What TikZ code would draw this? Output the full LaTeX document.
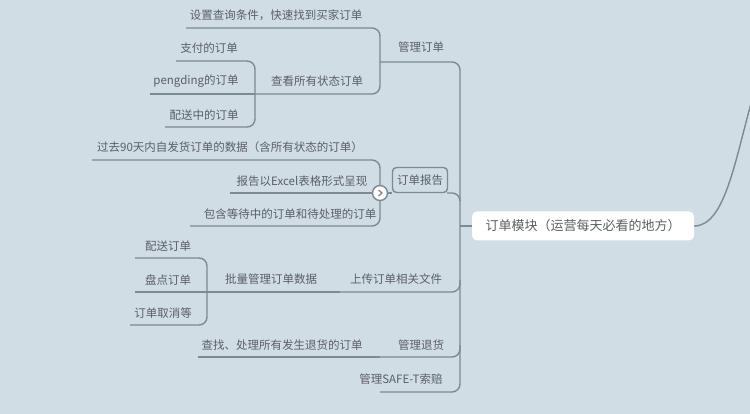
\documentclass[tikz,border=0pt]{standalone}
\usepackage{fontspec}
\setmainfont{Noto Sans CJK SC}
\begin{document}
\begin{tikzpicture}[x=1pt,y=-1pt,
  ln/.style={draw=lc,line width=1.4pt,rounded corners=8pt},
  tx/.style={text=tc,font=\fontsize{11.5}{13}\selectfont,inner sep=0pt}]
\definecolor{bg}{HTML}{D1DDE5}
\definecolor{lc}{HTML}{7E8990}
\definecolor{tc}{HTML}{5A5F63}
\fill[bg] (0,0) rectangle (750,414);
\useasboundingbox (0,0) rectangle (750,414);
% root
\node[tx,fill=white,rounded corners=5pt,minimum width=222pt,minimum height=29pt,font=\fontsize{13}{15}\selectfont] (root) at (583,226) {订单模块（运营每天必看的地方）};
\draw[lc,line width=1.4pt] (root.east) .. controls (725,226) and (735,160) .. (752,100);
% trunk
\coordinate (tj) at (460,226);
\draw[ln] (tj) -- (root.west);
\draw[ln] (380,62) -- (460,62) -- (tj);
\draw[ln] (380,392) -- (460,392) -- (tj);
\draw[ln] (447,193) -- (460,193) -- (460,200);
\draw[ln] (340,292) -- (460,292) -- (460,280);
\draw[ln] (380,357) -- (460,357) -- (460,345);
\node[tx] (m1) at (421,47) {管理订单};
\node[tx,draw=lc,line width=1.4pt,rounded corners=4pt,minimum width=55pt,minimum height=25pt,fill=bg] (m2) at (420,180) {订单报告};
\node[tx] (m3) at (396,279) {上传订单相关文件};
\node[tx] (m4) at (421,345) {管理退货};
\node[tx] (m5) at (401,379) {管理SAFE-T索赔};
% 管理订单 children
\draw[ln] (186,28) -- (380,28) -- (380,62);
\draw[ln] (255,94) -- (380,94) -- (380,62);
\node[tx] (a1) at (276,15) {设置查询条件，快速找到买家订单};
\node[tx] (a2) at (317,81) {查看所有状态订单};
\draw[ln] (176,61) -- (255,61) -- (255,94);
\draw[ln] (165,127) -- (255,127) -- (255,94);
\draw[ln] (150,94) -- (255,94);
\node[tx] (b1) at (209,48) {支付的订单};
\node[tx] (b2) at (196,81) {pengding的订单};
\node[tx] (b3) at (204,115) {配送中的订单};
% 订单报告 children
\draw[ln] (92,160) -- (380,160) -- (380,193);
\draw[ln] (190,226) -- (380,226) -- (380,193);
\draw[ln] (230,193) -- (392,193);
\node[tx] (c1) at (230,147) {过去90天内自发货订单的数据（含所有状态的订单）};
\node[tx] (c2) at (302,181) {报告以Excel表格形式呈现};
\node[tx] (c3) at (290,214) {包含等待中的订单和待处理的订单};
\node[circle,draw=lc,line width=1.4pt,fill=white,minimum size=15pt,inner sep=0pt] (tog) at (380,193) {};
\draw[lc,line width=1.3pt] ([xshift=-1.5pt,yshift=3pt]tog.center) -- ([xshift=2pt]tog.center) -- ([xshift=-1.5pt,yshift=-3pt]tog.center);
% 上传 children
\draw[ln] (207,292) -- (340,292);
\node[tx] (d1) at (271,279) {批量管理订单数据};
\draw[ln] (135,258) -- (207,258) -- (207,292);
\draw[ln] (130,325) -- (207,325) -- (207,292);
\draw[ln] (135,292) -- (207,292);
\node[tx] (e1) at (168,246) {配送订单};
\node[tx] (e2) at (168,280) {盘点订单};
\node[tx] (e3) at (163,313) {订单取消等};
% 退货 child
\draw[ln] (198,357) -- (380,357);
\node[tx] (f1) at (282,345) {查找、处理所有发生退货的订单};
\end{tikzpicture}
\end{document}
